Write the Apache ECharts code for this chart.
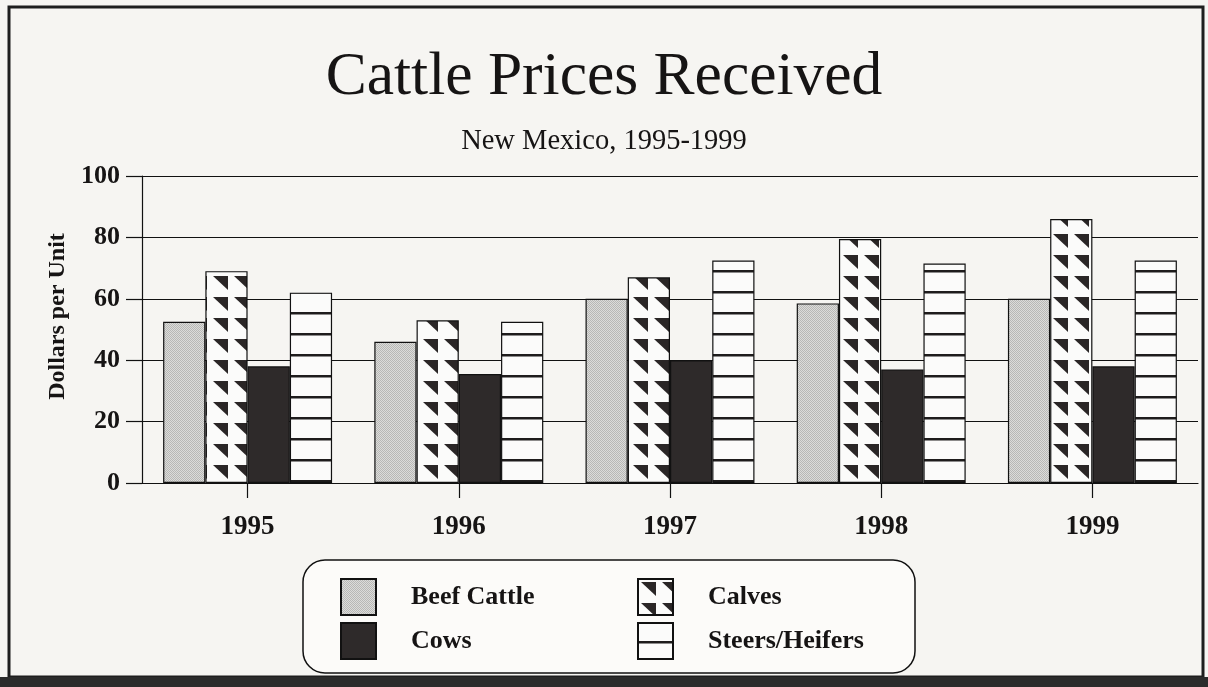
<!DOCTYPE html>
<html><head><meta charset="utf-8">
<script src="https://cdn.jsdelivr.net/npm/echarts@6/dist/echarts.min.js"></script>
<style>html,body{margin:0;padding:0;background:#f6f5f2;}#c{width:1208px;height:687px;}</style>
</head><body><div id="c"></div>
<script>
// ---- data ----
const categories = ['1995', '1996', '1997', '1998', '1999'];
const beefCattle = [52.5, 46, 60, 58.5, 60];
const calves = [69, 53, 67, 79.5, 86];
const cows = [38, 35.5, 40, 37, 38];
const steersHeifers = [62, 52.5, 72.5, 71.5, 72.5];
const seriesNames = ['Beef Cattle', 'Calves', 'Cows', 'Steers/Heifers'];
const legendCol1 = ['Beef Cattle', 'Cows'];
const legendCol2 = ['Calves', 'Steers/Heifers'];
const yMin = 0, yMax = 100, yStep = 20;

// ---- patterns ----
function tile(w, h, draw) {
  const c = document.createElement('canvas');
  c.width = w; c.height = h;
  draw(c.getContext('2d'), w, h);
  return c;
}
const beefTile = tile(2, 2, (g) => {
  g.fillStyle = '#dcdcda'; g.fillRect(0, 0, 2, 2);
  g.fillStyle = '#b8b8b6'; g.fillRect(0, 0, 1, 1); g.fillRect(1, 1, 1, 1);
});
const calvesTile = tile(21, 21, (g) => {
  g.fillStyle = '#fbfbfa'; g.fillRect(0, 0, 21, 21);
  g.fillStyle = '#2a2626';
  g.beginPath(); g.moveTo(3, 3); g.lineTo(18, 3); g.lineTo(18, 17); g.closePath(); g.fill();
});
const steersTile = tile(4, 21, (g) => {
  g.fillStyle = '#fbfbfa'; g.fillRect(0, 0, 4, 21);
  g.fillStyle = '#1e1c1c'; g.fillRect(0, 18, 4, 2.5);
});
const fills = [
  { image: beefTile, repeat: 'repeat' },
  { image: calvesTile, repeat: 'repeat' },
  '#2e2a2a',
  { image: steersTile, repeat: 'repeat' }
];
const values = [beefCattle, calves, cows, steersHeifers];

const FONT = '"Liberation Serif", "DejaVu Serif", serif';
const TXT = '#161414';
const chart = echarts.init(document.getElementById('c'), null, { renderer: 'canvas' });

const legendBase = {
  orient: 'vertical', top: 578, padding: 0,
  itemWidth: 35, itemHeight: 36, itemGap: 6, icon: 'rect', selectedMode: false, z: 5,
  textStyle: { fontFamily: FONT, fontWeight: 'bold', fontSize: 26, color: TXT, padding: [7, 0, 0, 30] }
};

chart.setOption({
  backgroundColor: '#f6f5f2',
  animation: false,
  title: [
    { text: 'Cattle Prices Received', left: 'center', top: 42,
      textStyle: { fontFamily: FONT, fontSize: 61.5, fontWeight: 'normal', color: TXT } },
    { text: 'New Mexico, 1995-1999', left: 'center', top: 122,
      textStyle: { fontFamily: FONT, fontSize: 28.5, fontWeight: 'normal', color: TXT } }
  ],
  graphic: [
    { type: 'rect', z: 0, shape: { x: 9, y: 7, width: 1194, height: 670 },
      style: { fill: 'none', stroke: '#1e1e1e', lineWidth: 3 } },
    { type: 'rect', z: 0, shape: { x: 0, y: 677, width: 1208, height: 10 },
      style: { fill: '#2b2b2b' } },
    { type: 'rect', z: 1, shape: { x: 303, y: 560, width: 612, height: 113, r: 22 },
      style: { fill: '#fcfbf9', stroke: '#111', lineWidth: 1.5 } }
  ],
  grid: { left: 142, right: 10, top: 176, bottom: 204, containLabel: false },
  legend: [
    Object.assign({}, legendBase, { data: legendCol1, left: 340 }),
    Object.assign({}, legendBase, { data: legendCol2, left: 637 })
  ],
  xAxis: {
    type: 'category', data: categories,
    axisLine: { show: true, lineStyle: { color: '#111', width: 1.2 } },
    axisTick: { show: true, inside: false, alignWithLabel: true, length: 15, lineStyle: { color: '#111', width: 1.2 } },
    axisLabel: { fontFamily: FONT, fontWeight: 'bold', fontSize: 27, color: TXT, margin: 31 }
  },
  yAxis: {
    type: 'value', min: yMin, max: yMax, interval: yStep,
    name: 'Dollars per Unit', nameLocation: 'middle', nameRotate: 90, nameGap: 70,
    nameTextStyle: { fontFamily: FONT, fontWeight: 'bold', fontSize: 24, color: TXT, padding: [0, 0, 0, 26] },
    axisLine: { show: true, lineStyle: { color: '#111', width: 1.2 } },
    axisTick: { show: true, length: 16, lineStyle: { color: '#111', width: 1.2 } },
    axisLabel: { fontFamily: FONT, fontWeight: 'bold', fontSize: 26, color: TXT, margin: 22 },
    splitLine: { lineStyle: { color: '#111', width: 1.2 } }
  },
  series: seriesNames.map((name, i) => ({
    name, type: 'bar', data: values[i], barGap: '0%', barCategoryGap: '20%',
    itemStyle: { color: fills[i], borderColor: '#111', borderWidth: 1.2 }
  }))
});
</script></body></html>
